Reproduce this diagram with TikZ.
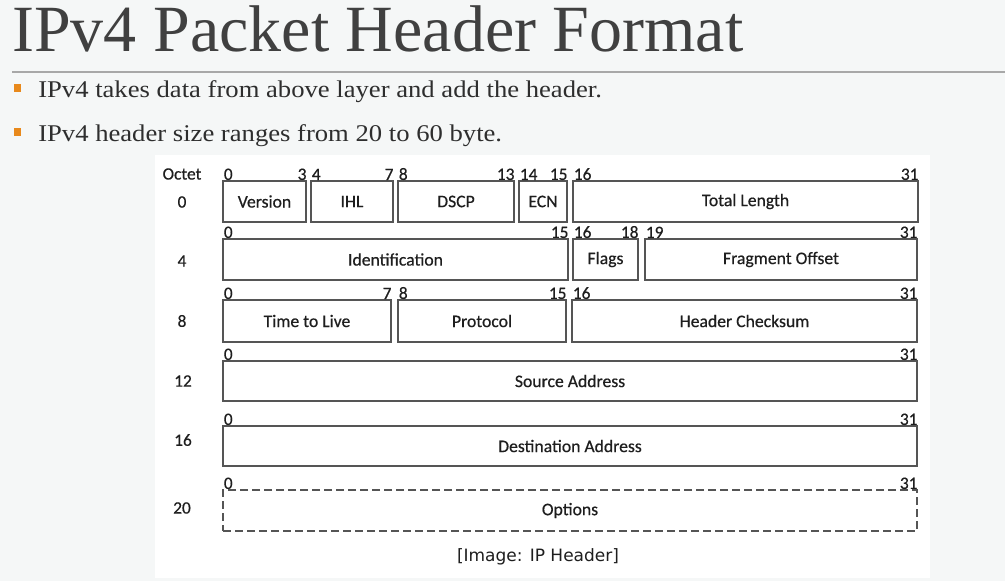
\documentclass[tikz,border=0pt]{standalone}
\usepackage{fontspec}
\setmainfont{Liberation Serif}
\newfontfamily\calfont[FakeBold=0.5]{Carlito}
\newfontfamily\dvsfont{DejaVu Sans}
\definecolor{bgc}{HTML}{F5F7F7}
\definecolor{titlec}{HTML}{404040}
\definecolor{bullc}{HTML}{2E2E2E}
\definecolor{rulec}{HTML}{A8A8A8}
\definecolor{orng}{HTML}{E8891C}
\definecolor{boxc}{HTML}{555555}
\definecolor{txtc}{HTML}{1E1E1E}
\tikzset{
  fldbox/.style={draw=boxc, line width=1.1pt, inner sep=0pt, font=\calfont\fontsize{13.25}{15}\selectfont, text=txtc},
  optbox/.style={fldbox, dash pattern=on 6pt off 3pt},
  bitn/.style={inner sep=0pt, font=\calfont\fontsize{13}{14}\selectfont, text=txtc},
  rowl/.style={inner sep=0pt, font=\calfont\fontsize{13}{15}\selectfont, text=txtc},
  bullet/.style={anchor=base west, inner sep=0pt, font=\fontsize{18}{20}\selectfont, text=bullc},
}
\newcommand\fieldnode[7][fldbox]{\node[#1, minimum width={(#5-#3)*0.75pt}, minimum height={(#6-#4)*0.75pt}] (#2) at ({(#3+#5)/2},{(#4+#6)/2}) {#7};}
\newcommand\bitl[3]{\node[bitn, anchor=south west, xshift=1pt] (#1) at (#2.north west) {#3};}
\newcommand\bitr[3]{\node[bitn, anchor=south east] (#1) at (#2.north east) {#3};}
\begin{document}
\begin{tikzpicture}[x=0.75pt,y=-0.75pt]
\useasboundingbox (0,0) rectangle (1005,581);
\fill[bgc] (0,0) rectangle (1005,581);
\fill[white] (155,155) rectangle (930,578);
% title
\node[anchor=base west, inner sep=0pt, font=\fontsize{49.5}{52}\selectfont, text=titlec] (title) at (12,52) {IPv4 Packet Header Format};
\coordinate (rl) at (12,72);
\coordinate (rr) at (1005,72);
\draw[rulec, line width=1pt] (rl) -- (rr);
% bullets
\fill[orng] (14,84) rectangle (21,92);
\node[bullet] (b1) at (38,98) {\scalebox{1.11}[1]{IPv4 takes data from above layer and add the header.}};
\fill[orng] (14,128) rectangle (21,136);
\node[bullet] (b2) at (38,142) {\scalebox{1.11}[1]{IPv4 header size ranges from 20 to 60 byte.}};
% row labels
\node[rowl] (octet) at (182,174) {Octet};
\node[rowl] (r0) at (182,202) {0};
\node[rowl] (r4) at (182,261) {4};
\node[rowl] (r8) at (182,321) {8};
\node[rowl] (r12) at (183,381) {12};
\node[rowl] (r16) at (183,440) {16};
\node[rowl] (r20) at (182,508) {20};
% row 0
\fieldnode{ver}{223}{181}{306}{222}{Version}
\fieldnode{ihl}{311}{181}{393}{222}{IHL}
\fieldnode{dscp}{398}{181}{514}{222}{DSCP}
\fieldnode{ecn}{519}{181}{567}{222}{ECN}
\fieldnode{tlen}{573}{181}{918}{222}{Total Length}
\bitl{a0}{ver}{0}\bitr{a3}{ver}{3}
\bitl{a4}{ihl}{4}\bitr{a7}{ihl}{7}
\bitl{a8}{dscp}{8}\bitr{a13}{dscp}{13}
\bitl{a14}{ecn}{14}\bitr{a15}{ecn}{15}
\bitl{a16}{tlen}{16}\bitr{a31}{tlen}{31}
% row 4
\fieldnode{ident}{223}{239}{568}{280}{Identification}
\fieldnode{flags}{573}{239}{638}{280}{Flags}
\fieldnode{frag}{645}{239}{917}{280}{Fragment Offset}
\bitl{b0}{ident}{0}\bitr{b15}{ident}{15}
\bitl{b16}{flags}{16}\bitr{b18}{flags}{18}
\bitl{b19}{frag}{19}\bitr{b31}{frag}{31}
% row 8
\fieldnode{ttl}{223}{300}{391}{342}{Time to Live}
\fieldnode{proto}{398}{300}{566}{342}{Protocol}
\fieldnode{csum}{572}{300}{917}{342}{Header Checksum}
\bitl{c0}{ttl}{0}\bitr{c7}{ttl}{7}
\bitl{c8}{proto}{8}\bitr{c15}{proto}{15}
\bitl{c16}{csum}{16}\bitr{c31}{csum}{31}
% row 12
\fieldnode{src}{223}{361}{917}{401}{Source Address}
\bitl{d0}{src}{0}\bitr{d31}{src}{31}
% row 16
\fieldnode{dst}{223}{426}{917}{466}{Destination Address}
\bitl{e0}{dst}{0}\bitr{e31}{dst}{31}
% row 20
\fieldnode[optbox]{opts}{223}{490}{917}{531}{Options}
\bitl{f0}{opts}{0}\bitr{f31}{opts}{31}
% caption
\node[inner sep=0pt, font=\dvsfont\fontsize{12.75}{14}\selectfont, text=txtc] (cap) at (538,557) {[Image: IP Header]};
\end{tikzpicture}
\end{document}
